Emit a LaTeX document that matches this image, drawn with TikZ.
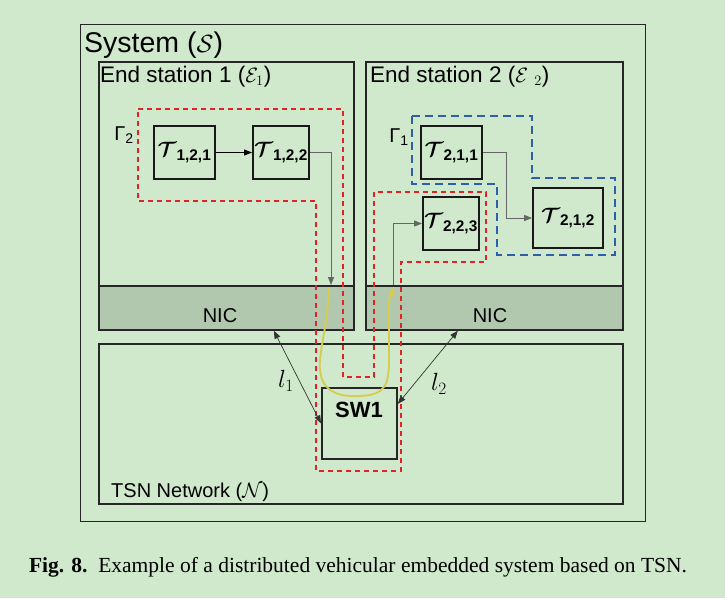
\documentclass[tikz,border=0pt]{standalone}
\usepackage{amsmath}
\usepackage{amssymb}
\usepackage{fontspec}
\setmainfont{Liberation Sans}
\setsansfont{Liberation Sans}
\newfontfamily\capfont{Liberation Serif}
\usepackage{tikz}
\usetikzlibrary{arrows.meta,positioning}

\definecolor{bggreen}{RGB}{208,232,204}
\definecolor{nicgreen}{RGB}{177,200,175}
\definecolor{gred}{RGB}{225,35,35}
\definecolor{gblue}{RGB}{45,95,170}
\definecolor{routeyellow}{RGB}{214,204,80}

\newcommand{\tsk}[1]{$\boldsymbol{\mathcal{T}}_{\textsf{\textbf{#1}}}$}

\begin{document}
\begin{tikzpicture}[
    x=1pt, y=-1pt,
    frame/.style={
        draw=black!85,
        line width=1.7pt,
        anchor=north west,
        inner sep=0pt
    },
    nicbox/.style={
        frame,
        fill=nicgreen,
        minimum width=255pt,
        minimum height=44pt
    },
    task/.style={
        draw=black!90,
        line width=1.8pt,
        inner sep=0pt,
        minimum width=#1,
        minimum height=53pt,
        font=\fontsize{22}{24}\selectfont
    },
    title/.style={anchor=base west, inner sep=0pt, font=\fontsize{22.5}{25}\selectfont},
    gammared/.style={draw=gred, line width=1.7pt, dash pattern=on 5pt off 4pt},
    gammablue/.style={draw=gblue, line width=2.1pt, dash pattern=on 8pt off 5pt},
    flow/.style={-{Triangle[length=8pt,width=6pt]}, line width=0.9pt, draw=black},
    link/.style={-{Triangle[length=8pt,width=6pt]}, line width=0.9pt, draw=black!60},
    wire/.style={{Triangle[length=8pt,width=6pt]}-{Triangle[length=8pt,width=6pt]}, line width=0.7pt, draw=black!80},
    route/.style={-{Triangle[length=8pt,width=6pt]}, line width=1.9pt, draw=routeyellow, line cap=round}
]
\useasboundingbox[fill=bggreen] (0,0) rectangle (725,598);

\node[frame, line width=1.4pt, minimum width=565pt, minimum height=497pt] (sys) at (80,24) {};
\node[title, font=\fontsize{28.5}{31}\selectfont] (systitle) at (84,52) {System ($\mathcal{S}$)};

\node[nicbox] (nic1) at (98,285) {};
\node[nicbox, minimum width=257pt] (nic2) at (365,285) {};
\node[frame, minimum width=255pt, minimum height=268pt] (es1) at (98,61) {};
\node[frame, minimum width=257pt, minimum height=268pt] (es2) at (365,61) {};
\node[title] (es1title) at (100,82) {End station 1 ($\mathcal{E}_1$)};
\node[title] (es2title) at (370,82) {End station 2 ($\mathcal{E}\ _2$)};
\node[font=\fontsize{20}{22}\selectfont] (nic1text) at (220,316) {NIC};
\node[font=\fontsize{20}{22}\selectfont] (nic2text) at (490,316) {NIC};

\node[frame, minimum width=524pt, minimum height=160pt] (tsn) at (98,343) {};
\node[title, font=\fontsize{20}{22}\selectfont] (tsntitle) at (111,497) {TSN Network ($\mathcal{N}$)};

\node[frame, line width=1.8pt, minimum width=75pt, minimum height=71pt] (sw1) at (321,387) {};
\node[font=\fontsize{22}{24}\selectfont\bfseries] (sw1text) at (359,410) {SW1};

\node[task=61pt] (t121) at (184.5,152.5) {\tsk{1,2,1}};
\node[task=56pt] (t122) at (281,152.5) {\tsk{1,2,2}};
\node[task=61pt] (t211) at (451.5,152.5) {\tsk{2,1,1}};
\node[task=70pt, minimum height=60pt] (t212) at (568,218) {\tsk{2,1,2}};
\node[task=56pt] (t223) at (451,223.5) {\tsk{2,2,3}};

\draw[gammared] (138,109) -- (343,109) -- (343,377) -- (374,377) -- (374,192) -- (486,192) -- (486,262)
    -- (401,262) -- (401,471) -- (316,471) -- (316,201) -- (138,201) -- cycle;
\draw[gammablue] (412,116) -- (532,116) -- (532,178) -- (615,178) -- (615,255) -- (497,255) -- (497,184)
    -- (412,184) -- cycle;
\node[font=\fontsize{20}{22}\selectfont] (g2) at (124,135) {Γ\textsubscript{2}};
\node[font=\fontsize{20}{22}\selectfont] (g1) at (399,137) {Γ\textsubscript{1}};

\coordinate (nic1in) at (331,285);
\coordinate (nic2out) at (393,285);
\draw[flow] (t121) -- (t122);
\draw[link] (t122.east) -| (nic1in);
\draw[link] (t211.east) -| ([xshift=-26pt]t212.west) -- (t212.west);
\draw[link] (nic2out) |- (t223.west);

\draw[wire] ([xshift=47.5pt]nic1.south) -- (sw1.west);
\draw[wire] ([xshift=-36.5pt]nic2.south) -- ([yshift=19.5pt]sw1.east);
\node[font=\fontsize{25}{27}\selectfont] (l1) at (286,381) {$l_1$};
\node[font=\fontsize{25}{27}\selectfont] (l2) at (439,384) {$l_2$};

\coordinate (yin) at (329,288);
\coordinate (yout) at (393,287);
\draw[route] (yin) .. controls (327,330) and (318,355) .. (320,370)
    .. controls (322,395) and (345,397) .. (360,396)
    .. controls (385,395) and (389,385) .. (389,360)
    -- (389,305) .. controls (389,296) and (392,293) .. (yout);

\node[font=\capfont\fontsize{21.5}{24}\selectfont] (caption) at (358,567)
    {\textbf{Fig. 8.}\enspace Example of a distributed vehicular embedded system based on TSN.};
\end{tikzpicture}
\end{document}
